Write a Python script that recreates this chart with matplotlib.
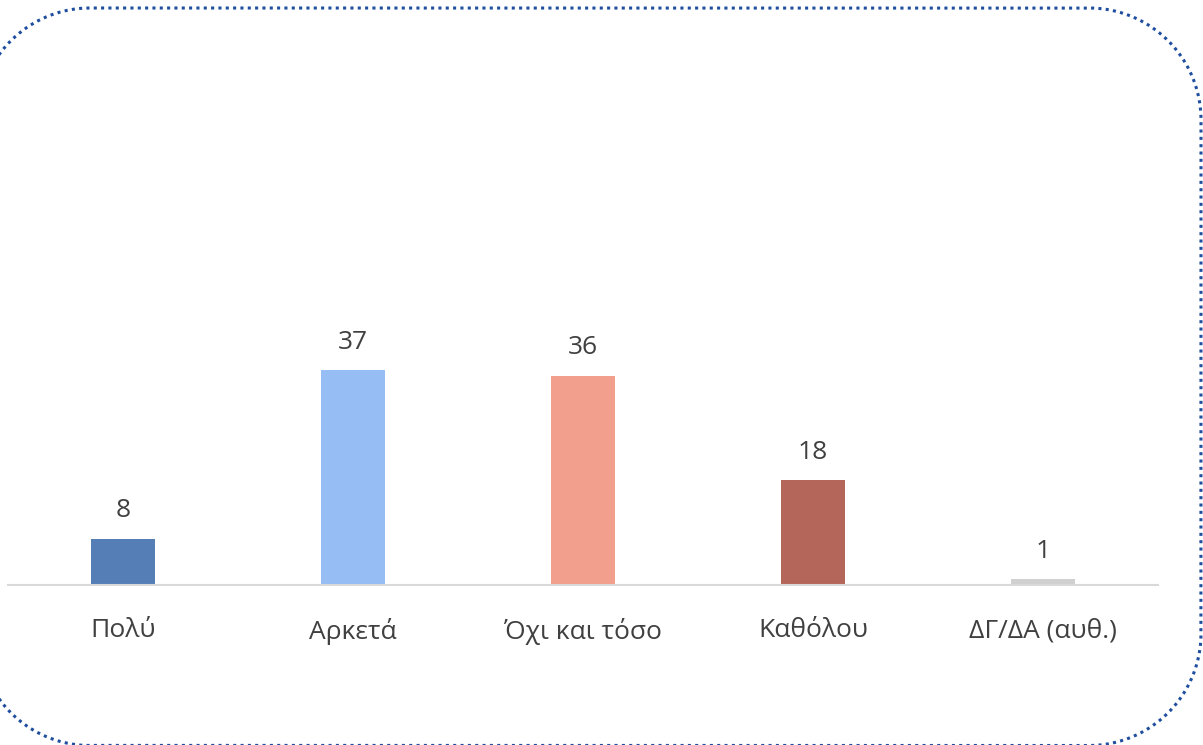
import matplotlib
matplotlib.use("Agg")
import numpy as np
import matplotlib.pyplot as plt
from matplotlib.path import Path
from matplotlib.patches import PathPatch

categories = ["Πολύ", "Αρκετά", "Όχι και τόσο", "Καθόλου", "ΔΓ/ΔΑ (αυθ.)"]
values = [8, 37, 36, 18, 1]
colors = ["#557EB6", "#97BDF5", "#F29F8D", "#B5665A", "#D0D0D0"]

W, H = 1203, 745
fig = plt.figure(figsize=(W / 100, H / 100), dpi=100)

# Rounded dotted frame, drawn in pixel coordinates on a full-figure overlay
bg = fig.add_axes([0, 0, 1, 1])
bg.set_xlim(0, W)
bg.set_ylim(H, 0)
bg.axis("off")

left, right, top, bottom, r = -22, 1201, 8, 745.5, 112


def arc(cx, cy, a0, a1, n=40):
    t = np.radians(np.linspace(a0, a1, n))
    return np.column_stack([cx + r * np.cos(t), cy - r * np.sin(t)])


pts = np.vstack([
    arc(left + r, top + r, 180, 90),
    arc(right - r, top + r, 90, 0),
    arc(right - r, bottom - r, 0, -90),
    arc(left + r, bottom - r, -90, -180),
    [[left, top + r]],
])
bg.add_patch(PathPatch(Path(pts), fill=False, edgecolor="#1F4E9E",
                       linewidth=2.2, linestyle=(0, (1, 1.4)), clip_on=False))

ax = fig.add_axes([8 / W, (H - 585) / H, 1150 / W, 465 / H])
x = range(len(categories))
bars = ax.bar(x, values, width=0.275, color=colors, zorder=2)
ax.set_xlim(-0.5, len(categories) - 0.5)
ax.set_ylim(0, 80)

for rect, v in zip(bars, values):
    ax.annotate(str(v), (rect.get_x() + rect.get_width() / 2, v),
                xytext=(0, 11), textcoords="offset points",
                ha="center", va="bottom", fontsize=19,
                color="#404040", family="Open Sans")

ax.set_xticks(list(x))
ax.set_xticklabels(categories, fontsize=19, color="#404040", family="Open Sans")
ax.tick_params(axis="x", length=0, pad=24)
ax.set_yticks([])
for s in ["top", "right", "left"]:
    ax.spines[s].set_visible(False)
ax.spines["bottom"].set_color("#D9D9D9")
ax.spines["bottom"].set_linewidth(1.5)
ax.patch.set_alpha(0)

fig.savefig("out.png", dpi=100)
